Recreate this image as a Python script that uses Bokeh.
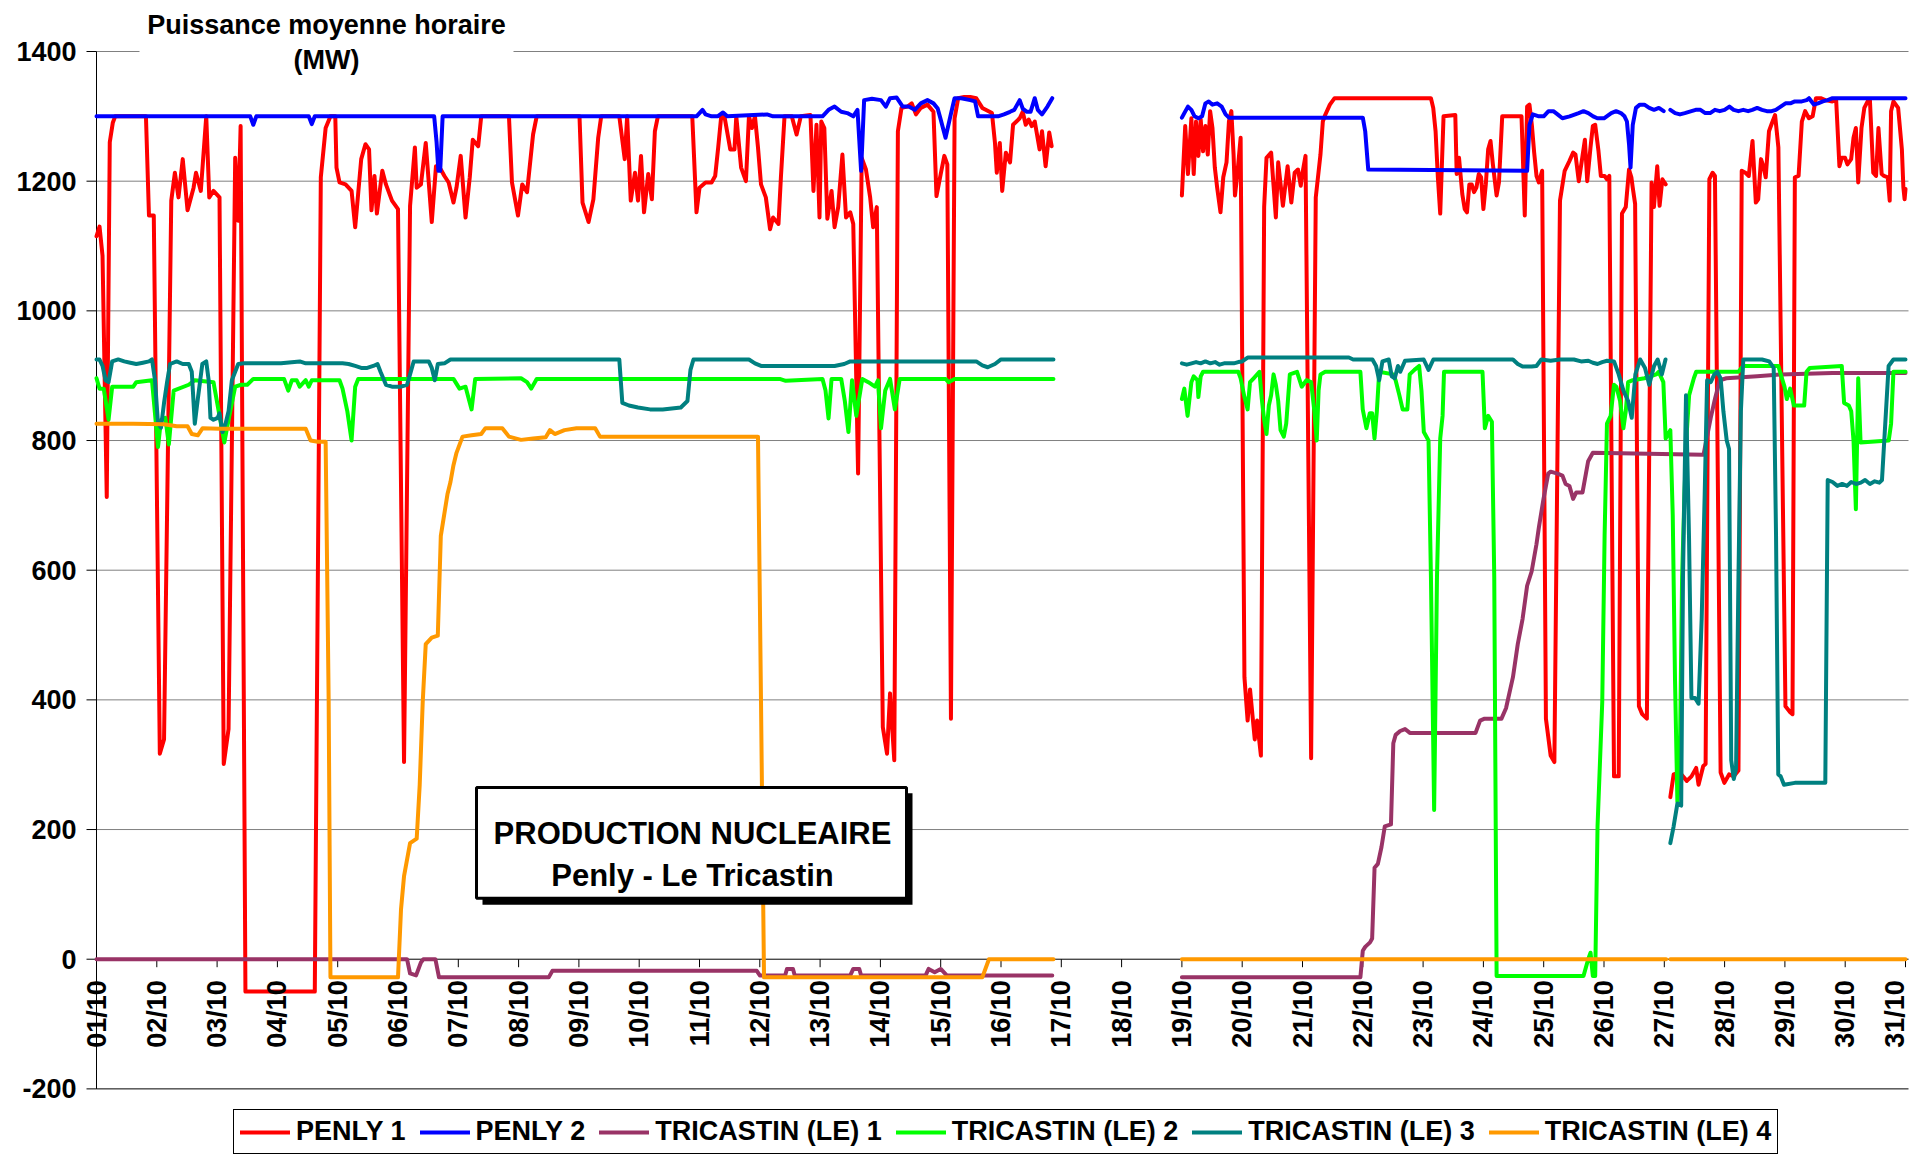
import math
from bokeh.plotting import figure
from bokeh.models import Range1d, Label, BoxAnnotation, Legend, LegendItem
from bokeh.embed import file_html
from bokeh.resources import INLINE

NAN = float("nan")

# ---------------- data (day offset from 01/10 00:00, MW) ----------------
DAY_LABELS = ["01/10", "02/10", "03/10", "04/10", "05/10", "06/10", "07/10", "08/10",
              "09/10", "10/10", "11/10", "12/10", "13/10", "14/10", "15/10", "16/10",
              "17/10", "18/10", "19/10", "20/10", "21/10", "22/10", "23/10", "24/10",
              "25/10", "26/10", "27/10", "28/10", "29/10", "30/10", "31/10"]
Y_TICKS = [-200, 0, 200, 400, 600, 800, 1000, 1200, 1400]
Y_LABELS = ["-200", "0", "200", "400", "600", "800", "1000", "1200", "1400"]

SERIES_NAMES = ["PENLY 1", "PENLY 2", "TRICASTIN (LE) 1", "TRICASTIN (LE) 2",
                "TRICASTIN (LE) 3", "TRICASTIN (LE) 4"]
SERIES_COLORS = ["#FF0000", "#0000FF", "#993366", "#00FF00", "#008080", "#FF9900"]

PENLY1 = [
    (0.00, 1115), (0.05, 1130), (0.10, 1085), (0.17, 713), (0.22, 1260), (0.27, 1290), (0.31, 1300),
    (0.82, 1300), (0.87, 1147), (0.95, 1147), (1.05, 317), (1.12, 339), (1.24, 1170), (1.30, 1213),
    (1.36, 1175), (1.43, 1234), (1.51, 1155), (1.61, 1190), (1.65, 1213), (1.73, 1185), (1.82, 1300),
    (1.87, 1175), (1.94, 1185), (1.99, 1180), (2.04, 1175), (2.11, 301), (2.19, 355), (2.30, 1236),
    (2.35, 1139), (2.39, 1285), (2.47, -50), (3.62, -50), (3.72, 1206), (3.80, 1282), (3.88, 1300),
    (3.96, 1300), (3.98, 1221), (4.03, 1198), (4.13, 1195), (4.23, 1185), (4.29, 1129), (4.39, 1234),
    (4.46, 1257), (4.52, 1249), (4.56, 1155), (4.61, 1208), (4.65, 1150), (4.74, 1216), (4.80, 1195),
    (4.90, 1170), (5.00, 1157), (5.10, 304), (5.20, 1162), (5.28, 1252), (5.31, 1190), (5.38, 1195),
    (5.46, 1259), (5.56, 1137), (5.63, 1223), (5.71, 1218), (5.77, 1208), (5.84, 1198), (5.92, 1167),
    (5.97, 1190), (6.04, 1239), (6.12, 1144), (6.19, 1206), (6.24, 1264), (6.33, 1254), (6.38, 1300),
    (6.84, 1300), (6.89, 1198), (6.99, 1147), (7.06, 1195), (7.14, 1183), (7.24, 1272), (7.30, 1300),
    (8.01, 1300), (8.06, 1167), (8.16, 1137), (8.24, 1172), (8.32, 1267), (8.37, 1300), (8.67, 1300),
    (8.76, 1234), (8.80, 1300), (8.86, 1170), (8.93, 1213), (8.98, 1170), (9.03, 1239), (9.08, 1152),
    (9.15, 1211), (9.21, 1172), (9.26, 1277), (9.31, 1300), (9.88, 1300), (9.95, 1152), (10.00, 1190),
    (10.10, 1198), (10.20, 1198), (10.26, 1208), (10.31, 1252), (10.36, 1300), (10.41, 1302),
    (10.51, 1249), (10.58, 1249), (10.61, 1300), (10.69, 1221), (10.77, 1200), (10.82, 1300),
    (10.87, 1282), (10.92, 1300), (10.97, 1252), (11.02, 1195), (11.10, 1175), (11.17, 1126),
    (11.22, 1144), (11.31, 1134), (11.35, 1206), (11.41, 1300), (11.53, 1300), (11.61, 1272),
    (11.68, 1300), (11.84, 1302), (11.89, 1185), (11.94, 1287), (11.99, 1144), (12.02, 1292),
    (12.07, 1282), (12.12, 1142), (12.19, 1185), (12.24, 1129), (12.30, 1160), (12.37, 1241),
    (12.43, 1144), (12.50, 1152), (12.55, 1134), (12.63, 749), (12.69, 1236), (12.76, 1218),
    (12.83, 1175), (12.88, 1129), (12.94, 1160), (13.04, 358), (13.11, 317), (13.16, 410),
    (13.23, 307), (13.29, 1277), (13.35, 1313), (13.45, 1315), (13.52, 1320), (13.59, 1303),
    (13.67, 1313), (13.78, 1318), (13.88, 1307), (13.93, 1177), (14.00, 1211), (14.06, 1239),
    (14.11, 1226), (14.17, 371), (14.23, 1297), (14.29, 1328), (14.39, 1330), (14.49, 1330),
    (14.59, 1328), (14.69, 1313), (14.85, 1305), (14.90, 1259), (14.93, 1213), (14.98, 1259),
    (15.02, 1185), (15.08, 1244), (15.15, 1229), (15.20, 1287), (15.31, 1297), (15.36, 1307),
    (15.41, 1287), (15.46, 1295), (15.51, 1285), (15.56, 1292), (15.64, 1249), (15.68, 1277),
    (15.74, 1223), (15.80, 1275), (15.84, 1254),
    (NAN, NAN),
    (18.00, 1178), (18.055, 1285), (18.10, 1211), (18.157, 1297), (18.196, 1211), (18.234, 1292),
    (18.273, 1239), (18.312, 1295), (18.351, 1246), (18.39, 1285), (18.429, 1241), (18.468, 1308),
    (18.507, 1282), (18.546, 1221), (18.585, 1190), (18.64, 1152), (18.686, 1206), (18.74, 1229),
    (18.78, 1292), (18.82, 1308), (18.857, 1241), (18.88, 1178), (18.92, 1211), (18.974, 1267),
    (19.037, 435), (19.09, 368), (19.13, 416), (19.208, 339), (19.247, 368), (19.31, 314),
    (19.364, 1160), (19.403, 1236), (19.48, 1244), (19.52, 1193), (19.558, 1144), (19.597, 1229),
    (19.675, 1162), (19.753, 1223), (19.815, 1167), (19.87, 1213), (19.925, 1218), (19.971, 1193),
    (20.00, 1213), (20.05, 1239), (20.143, 310), (20.22, 1175), (20.298, 1241), (20.337, 1292),
    (20.376, 1302), (20.454, 1318), (20.532, 1328), (22.13, 1328), (22.168, 1313), (22.207, 1277),
    (22.245, 1206), (22.284, 1150), (22.339, 1300), (22.534, 1302), (22.557, 1211), (22.596, 1236),
    (22.65, 1180), (22.69, 1157), (22.728, 1152), (22.767, 1195), (22.806, 1195), (22.845, 1183),
    (22.884, 1190), (22.923, 1211), (22.962, 1206), (23.00, 1157), (23.04, 1195), (23.079, 1249),
    (23.118, 1262), (23.157, 1226), (23.219, 1178), (23.258, 1198), (23.312, 1300), (23.632, 1300),
    (23.686, 1147), (23.725, 1315), (23.764, 1318), (23.803, 1287), (23.842, 1244), (23.881, 1208),
    (23.92, 1198), (23.974, 1216), (24.037, 371), (24.115, 314), (24.177, 304), (24.27, 1170),
    (24.348, 1216), (24.426, 1231), (24.488, 1244), (24.527, 1241), (24.582, 1200), (24.644, 1239),
    (24.683, 1264), (24.722, 1200), (24.776, 1252), (24.815, 1285), (24.854, 1287), (24.909, 1246),
    (24.948, 1208), (25.01, 1208), (25.049, 1203), (25.088, 1208), (25.166, 282), (25.244, 282),
    (25.298, 1150), (25.361, 1160), (25.415, 1218), (25.454, 1206), (25.477, 1190), (25.516, 1165),
    (25.579, 390), (25.633, 378), (25.711, 371), (25.789, 1198), (25.828, 1160), (25.883, 1223),
    (25.922, 1162), (25.968, 1203), (26.023, 1195),
    (NAN, NAN),
    (26.10, 250), (26.155, 285), (26.256, 288), (26.373, 275), (26.451, 282), (26.529, 295),
    (26.568, 269), (26.646, 298), (26.685, 301), (26.747, 1203), (26.801, 1213), (26.84, 1208),
    (26.934, 288), (26.996, 272), (27.074, 285), (27.152, 282), (27.23, 291), (27.284, 1216),
    (27.346, 1213), (27.401, 1208), (27.463, 1262), (27.518, 1167), (27.557, 1172), (27.604, 1234),
    (27.643, 1223), (27.682, 1206), (27.736, 1277), (27.775, 1287), (27.837, 1302), (27.892, 1252),
    (28.009, 390), (28.087, 381), (28.126, 378), (28.165, 1206), (28.227, 1208), (28.281, 1292),
    (28.336, 1308), (28.398, 1297), (28.46, 1300), (28.515, 1328), (28.593, 1328), (28.671, 1325),
    (28.788, 1323), (28.85, 1325), (28.904, 1223), (28.943, 1236), (28.998, 1236), (29.037, 1226),
    (29.099, 1234), (29.138, 1267), (29.177, 1282), (29.216, 1198), (29.27, 1282), (29.317, 1313),
    (29.372, 1323), (29.41, 1325), (29.465, 1213), (29.512, 1208), (29.551, 1282), (29.605, 1211),
    (29.644, 1208), (29.706, 1206), (29.738, 1170), (29.761, 1308), (29.80, 1323), (29.878, 1313),
    (29.94, 1249), (29.965, 1190), (29.985, 1172), (30.00, 1188),
]

PENLY2 = [
    (0.00, 1300), (2.55, 1300), (2.60, 1287), (2.65, 1300), (3.52, 1300), (3.57, 1288), (3.62, 1300),
    (5.60, 1300), (5.64, 1260), (5.67, 1216), (5.70, 1216), (5.74, 1300), (9.95, 1300), (10.05, 1310),
    (10.10, 1303), (10.20, 1300), (10.30, 1300), (10.39, 1306), (10.46, 1300), (11.12, 1303),
    (11.22, 1300), (12.04, 1300), (12.14, 1310), (12.24, 1315), (12.35, 1307), (12.45, 1305),
    (12.55, 1300), (12.62, 1310), (12.68, 1216), (12.73, 1325), (12.86, 1327), (13.01, 1325),
    (13.09, 1315), (13.16, 1328), (13.27, 1329), (13.37, 1315), (13.47, 1315), (13.57, 1310),
    (13.67, 1320), (13.78, 1325), (13.88, 1320), (13.95, 1312), (14.00, 1295), (14.08, 1267),
    (14.16, 1300), (14.23, 1328), (14.34, 1328), (14.49, 1325), (14.57, 1323), (14.62, 1300),
    (14.80, 1300), (14.95, 1300), (15.05, 1303), (15.15, 1307), (15.22, 1310), (15.31, 1325),
    (15.36, 1312), (15.43, 1307), (15.49, 1307), (15.56, 1328), (15.61, 1310), (15.68, 1303),
    (15.77, 1315), (15.85, 1328),
    (NAN, NAN),
    (18.00, 1298), (18.04, 1305), (18.10, 1315), (18.157, 1310), (18.21, 1300), (18.273, 1297),
    (18.335, 1300), (18.39, 1320), (18.445, 1323), (18.507, 1318), (18.585, 1320), (18.66, 1315),
    (18.725, 1303), (18.78, 1298), (21.00, 1298), (21.04, 1277), (21.09, 1218), (23.725, 1216),
    (23.764, 1287), (23.82, 1303), (23.92, 1300), (24.00, 1300), (24.08, 1308), (24.16, 1308),
    (24.23, 1303), (24.31, 1297), (24.43, 1300), (24.58, 1305), (24.66, 1308), (24.74, 1305),
    (24.82, 1300), (24.89, 1297), (25.00, 1297), (25.12, 1305), (25.20, 1308), (25.28, 1305),
    (25.34, 1300), (25.38, 1292), (25.415, 1257), (25.44, 1221), (25.477, 1287), (25.53, 1313),
    (25.595, 1318), (25.67, 1318), (25.75, 1313), (25.83, 1310), (25.91, 1313), (25.99, 1308),
    (NAN, NAN),
    (26.10, 1310), (26.18, 1305), (26.26, 1303), (26.34, 1305), (26.45, 1308), (26.52, 1310),
    (26.60, 1310), (26.68, 1305), (26.76, 1305), (26.84, 1310), (26.92, 1308), (27.00, 1310),
    (27.08, 1315), (27.15, 1310), (27.23, 1308), (27.31, 1310), (27.39, 1308), (27.46, 1310),
    (27.54, 1313), (27.62, 1310), (27.70, 1308), (27.78, 1308), (27.85, 1310), (27.93, 1315),
    (28.01, 1320), (28.09, 1320), (28.165, 1323), (28.28, 1323), (28.36, 1325), (28.40, 1328),
    (28.48, 1318), (28.55, 1320), (28.63, 1323), (28.71, 1325), (28.79, 1328), (30.00, 1328),
]

TRICASTIN1 = [
    (0.00, 0), (5.15, 0), (5.20, -22), (5.30, -25), (5.38, -5), (5.42, 0), (5.62, 0), (5.68, -28),
    (7.50, -28), (7.56, -18), (10.95, -18), (11.00, -25), (11.42, -25), (11.45, -15), (11.55, -15),
    (11.58, -25), (12.50, -25), (12.55, -15), (12.65, -15), (12.68, -25), (13.75, -25), (13.80, -15),
    (13.90, -20), (14.00, -15), (14.10, -25), (15.85, -25),
    (NAN, NAN),
    (18.00, -28), (20.96, -28), (21.00, 13), (21.04, 19), (21.12, 26), (21.155, 32), (21.195, 141),
    (21.25, 147), (21.31, 173), (21.365, 205), (21.467, 208), (21.506, 333), (21.545, 346),
    (21.62, 352), (21.70, 355), (21.78, 349), (22.87, 349), (22.945, 368), (23.02, 371), (23.30, 371),
    (23.375, 387), (23.49, 435), (23.57, 486), (23.65, 525), (23.725, 576), (23.80, 598), (23.88, 640),
    (23.92, 666), (23.997, 710), (24.075, 749), (24.115, 752), (24.23, 749), (24.31, 746),
    (24.364, 733), (24.426, 730), (24.488, 710), (24.54, 720), (24.644, 720), (24.70, 749),
    (24.737, 768), (24.815, 781), (26.65, 778), (26.69, 797), (26.77, 835), (26.84, 864),
    (26.92, 893), (27.03, 896), (27.54, 899), (27.93, 902), (28.79, 904), (30.00, 904),
]

TRICASTIN2 = [
    (0.00, 896), (0.05, 880), (0.12, 880), (0.20, 832), (0.26, 883), (0.61, 883), (0.66, 890),
    (0.92, 893), (1.02, 790), (1.07, 832), (1.14, 835), (1.20, 794), (1.28, 877), (1.53, 886),
    (1.63, 893), (1.94, 890), (2.04, 838), (2.12, 797), (2.19, 832), (2.30, 883), (2.40, 886),
    (2.50, 886), (2.60, 895), (3.11, 895), (3.18, 877), (3.24, 893), (3.32, 893), (3.37, 883),
    (3.47, 893), (3.52, 883), (3.57, 893), (4.03, 893), (4.08, 880), (4.16, 845), (4.23, 800),
    (4.29, 883), (4.34, 895), (5.92, 895), (6.02, 880), (6.12, 883), (6.22, 848), (6.28, 895),
    (7.04, 896), (7.14, 890), (7.21, 880), (7.30, 895), (11.33, 895), (11.43, 892), (12.04, 895),
    (12.09, 877), (12.14, 834), (12.19, 895), (12.35, 895), (12.41, 861), (12.47, 813), (12.53, 893),
    (12.60, 838), (12.70, 895), (12.80, 890), (12.91, 883), (12.96, 893), (13.01, 819), (13.08, 877),
    (13.16, 895), (13.24, 848), (13.32, 895), (14.08, 895), (14.13, 890), (14.23, 895), (15.87, 895),
    (NAN, NAN),
    (18.00, 864), (18.04, 880), (18.094, 838), (18.157, 890), (18.196, 899), (18.258, 893),
    (18.273, 867), (18.312, 899), (18.351, 906), (18.935, 906), (18.974, 896), (19.037, 867),
    (19.09, 848), (19.13, 890), (19.19, 896), (19.286, 906), (19.325, 864), (19.364, 832),
    (19.403, 810), (19.442, 854), (19.48, 870), (19.52, 902), (19.558, 886), (19.597, 861),
    (19.636, 816), (19.69, 806), (19.73, 826), (19.79, 902), (19.909, 906), (19.987, 883),
    (20.065, 893), (20.143, 890), (20.197, 845), (20.236, 800), (20.267, 877), (20.298, 902),
    (20.376, 906), (20.96, 906), (20.999, 848), (21.06, 819), (21.116, 842), (21.155, 842),
    (21.194, 803), (21.233, 845), (21.272, 906), (21.505, 902), (21.544, 893), (21.606, 870),
    (21.661, 848), (21.739, 848), (21.778, 902), (21.856, 909), (21.934, 915), (21.973, 877),
    (22.012, 813), (22.09, 800), (22.13, 589), (22.183, 230), (22.23, 589), (22.284, 803),
    (22.323, 838), (22.347, 906), (22.985, 906), (23.024, 819), (23.079, 838), (23.141, 829),
    (23.18, 589), (23.219, -26), (24.66, -26), (24.738, 0), (24.777, 10), (24.815, -26),
    (24.854, -26), (24.893, 205), (24.971, 397), (25.01, 653), (25.049, 826), (25.11, 838),
    (25.166, 886), (25.205, 883), (25.267, 861), (25.322, 819), (25.361, 845), (25.40, 890),
    (25.477, 893), (25.672, 896), (25.867, 902), (25.906, 906), (25.984, 890), (26.023, 803),
    (26.10, 816), (26.14, 685), (26.178, 429), (26.217, 243), (26.256, 294), (26.295, 589),
    (26.334, 717), (26.373, 813), (26.412, 870), (26.49, 896), (26.529, 906), (27.23, 906),
    (27.308, 915), (27.892, 915), (27.931, 902), (27.993, 883), (28.032, 864), (28.087, 880),
    (28.149, 854), (28.32, 854), (28.359, 906), (28.414, 912), (28.943, 915), (28.982, 858),
    (29.06, 854), (29.10, 845), (29.138, 800), (29.177, 694), (29.216, 896), (29.255, 797),
    (29.722, 800), (29.761, 826), (29.80, 906), (30.00, 906),
]

TRICASTIN3 = [
    (0.00, 925), (0.05, 925), (0.10, 915), (0.15, 893), (0.20, 890), (0.26, 922), (0.36, 925),
    (0.46, 922), (0.56, 920), (0.66, 918), (0.77, 920), (0.87, 922), (0.92, 925), (0.97, 893),
    (1.02, 826), (1.07, 820), (1.12, 858), (1.17, 890), (1.22, 918), (1.33, 922), (1.43, 918),
    (1.53, 918), (1.58, 906), (1.63, 826), (1.68, 864), (1.755, 918), (1.82, 922), (1.86, 893),
    (1.89, 835), (1.94, 832), (2.01, 835), (2.04, 842), (2.09, 813), (2.14, 826), (2.19, 845),
    (2.245, 893), (2.35, 918), (2.45, 919), (3.06, 919), (3.37, 922), (3.47, 919), (4.08, 919),
    (4.18, 918), (4.29, 915), (4.39, 912), (4.49, 912), (4.59, 915), (4.66, 918), (4.71, 906),
    (4.80, 886), (4.90, 883), (5.05, 883), (5.15, 886), (5.20, 902), (5.26, 922), (5.36, 922),
    (5.51, 922), (5.56, 912), (5.61, 893), (5.66, 918), (5.77, 919), (5.87, 925), (8.67, 925),
    (8.72, 858), (8.83, 854), (8.98, 851), (9.18, 848), (9.39, 848), (9.69, 851), (9.80, 861),
    (9.85, 909), (9.90, 925), (10.82, 925), (10.92, 919), (11.02, 915), (11.22, 915), (12.24, 915),
    (12.40, 918), (12.50, 922), (14.59, 922), (14.69, 916), (14.78, 913), (14.90, 918), (15.00, 925),
    (15.87, 925),
    (NAN, NAN),
    (18.00, 919), (18.08, 917), (18.16, 919), (18.235, 921), (18.31, 919), (18.39, 922),
    (18.47, 919), (18.55, 921), (18.625, 917), (18.70, 919), (18.78, 919), (18.86, 919),
    (18.935, 921), (19.00, 922), (19.09, 928), (20.77, 928), (20.84, 925), (21.16, 925),
    (21.22, 915), (21.272, 893), (21.326, 922), (21.43, 925), (21.48, 899), (21.53, 896),
    (21.583, 915), (21.622, 906), (21.70, 923), (22.01, 925), (22.09, 909), (22.17, 925),
    (23.49, 925), (23.57, 918), (23.65, 914), (23.80, 914), (23.88, 915), (23.96, 925),
    (24.115, 923), (24.27, 925), (24.50, 925), (24.62, 922), (24.74, 923), (24.815, 920),
    (24.893, 918), (24.97, 921), (25.05, 923), (25.166, 922), (25.244, 902), (25.322, 877),
    (25.40, 861), (25.46, 835), (25.52, 902), (25.60, 925), (25.68, 912), (25.75, 886),
    (25.83, 915), (25.89, 925), (25.96, 902), (26.02, 925),
    (NAN, NAN),
    (26.10, 179), (26.155, 205), (26.217, 240), (26.28, 237), (26.31, 589), (26.36, 870),
    (26.41, 650), (26.45, 403), (26.51, 403), (26.568, 394), (26.62, 525), (26.67, 717),
    (26.71, 893), (26.77, 890), (26.83, 902), (26.88, 906), (26.934, 896), (26.98, 845),
    (27.035, 800), (27.074, 787), (27.11, 307), (27.152, 278), (27.19, 294), (27.23, 589),
    (27.27, 845), (27.31, 925), (27.62, 925), (27.74, 922), (27.814, 912), (27.853, 653),
    (27.89, 285), (27.93, 282), (27.985, 269), (28.165, 272), (28.67, 272), (28.71, 739),
    (28.79, 736), (28.87, 730), (28.95, 733), (29.03, 730), (29.10, 736), (29.18, 733),
    (29.26, 735), (29.33, 739), (29.41, 733), (29.49, 737), (29.566, 735), (29.61, 739),
    (29.72, 915), (29.80, 925), (30.00, 925),
]

TRICASTIN4 = [
    (0.00, 826), (0.61, 826), (1.12, 825), (1.33, 822), (1.51, 822), (1.58, 810), (1.68, 808),
    (1.76, 819), (2.04, 818), (3.47, 818), (3.55, 800), (3.67, 798), (3.80, 798), (3.85, 400),
    (3.88, -28), (5.00, -28), (5.05, 77), (5.10, 128), (5.20, 179), (5.31, 186), (5.36, 269),
    (5.41, 397), (5.46, 486), (5.56, 496), (5.66, 499), (5.71, 653), (5.82, 717), (5.87, 736),
    (5.92, 762), (5.97, 781), (6.07, 806), (6.22, 808), (6.38, 810), (6.45, 819), (6.73, 819),
    (6.84, 806), (7.04, 801), (7.24, 803), (7.45, 805), (7.52, 816), (7.60, 810), (7.76, 816),
    (7.96, 819), (8.27, 819), (8.35, 806), (10.97, 806), (11.02, 397), (11.07, -28), (14.69, -28),
    (14.80, 0), (15.87, 0),
    (NAN, NAN),
    (18.00, 0), (26.03, 0),
    (NAN, NAN),
    (26.10, 0), (30.00, 0),
]

ALL_SERIES = [PENLY1, PENLY2, TRICASTIN1, TRICASTIN2, TRICASTIN3, TRICASTIN4]

# ---------------- layout (frame = whole canvas; axes drawn by hand) ----------------
FONT = "Liberation Sans"
W, H = 1910, 1155
X0_PX = 96          # canvas x of the value axis
PX_PER_DAY = 60.3
Y1400_PX = 51       # canvas y of the top gridline
PX_PER_MW = 0.64836
X_FRAME_END = 30.05  # where gridlines stop
LABEL_MAX_PX = W - 16  # keep rotated day labels fully on the canvas

x_start = -X0_PX / PX_PER_DAY
x_end = (W - X0_PX) / PX_PER_DAY
y_end = Y_TICKS[-1] + Y1400_PX / PX_PER_MW
y_start = Y_TICKS[-1] - (H - Y1400_PX) / PX_PER_MW


def dx(px):
    return px / PX_PER_DAY


def dy(px):
    return px / PX_PER_MW


def day_at(px):
    return (px - X0_PX) / PX_PER_DAY


p = figure(width=W, height=H, output_backend="svg", toolbar_location=None,
           x_range=Range1d(x_start, x_end), y_range=Range1d(y_start, y_end),
           x_axis_location=None, y_axis_location=None,
           min_border=0, min_border_left=0, min_border_right=0,
           min_border_top=0, min_border_bottom=0)
p.outline_line_color = None
p.background_fill_color = "white"
p.border_fill_color = "white"
for g in p.grid:
    g.visible = False

days = list(range(len(DAY_LABELS)))

# gridlines
grid_vals = [t for t in Y_TICKS if t not in (0, Y_TICKS[0])]
p.segment(x0=[0] * len(grid_vals), y0=grid_vals, x1=[X_FRAME_END] * len(grid_vals), y1=grid_vals,
          line_color="#808080", line_width=1)
# category axis (y=0) and bottom line (-200)
p.segment(x0=[0, 0], y0=[0, Y_TICKS[0]], x1=[X_FRAME_END, X_FRAME_END], y1=[0, Y_TICKS[0]],
          line_color="black", line_width=1)
# value axis line and its ticks
p.segment(x0=[0], y0=[Y_TICKS[0]], x1=[0], y1=[Y_TICKS[-1]], line_color="black", line_width=1)
p.segment(x0=[-dx(10)] * len(Y_TICKS), y0=Y_TICKS, x1=[0] * len(Y_TICKS), y1=Y_TICKS,
          line_color="black", line_width=1)
# category ticks
p.segment(x0=days, y0=[0] * len(days), x1=days, y1=[-dy(8)] * len(days),
          line_color="black", line_width=1)

# series
renderers = []
for name, color, data in zip(SERIES_NAMES, SERIES_COLORS, ALL_SERIES):
    xs = [d for d, _ in data]
    ys = [v for _, v in data]
    r = p.line(xs, ys, line_color=color, line_width=4, line_join="round", line_cap="round")
    renderers.append(r)

# value labels
for t, lab in zip(Y_TICKS, Y_LABELS):
    p.add_layout(Label(x=-dx(20), y=t, text=lab, text_align="right", text_baseline="middle",
                       text_font=FONT, text_font_style="bold", text_font_size="27px",
                       text_color="black"))

# category labels (rotated, just below the 0 line)
label_max_day = day_at(LABEL_MAX_PX)
for d, lab in zip(days, DAY_LABELS):
    p.add_layout(Label(x=min(d, label_max_day), y=-dy(21), text=lab, angle=math.pi / 2,
                       text_align="right", text_baseline="middle",
                       text_font=FONT, text_font_style="bold", text_font_size="27px",
                       text_color="black"))

# value-axis title with white background over the top gridline
p.add_layout(BoxAnnotation(left=day_at(139), right=day_at(513), bottom=1380, top=1480,
                           fill_color="white", fill_alpha=1.0, line_color=None))
p.add_layout(Label(x=day_at(326), y=1441, text="Puissance moyenne horaire",
                   text_align="center", text_baseline="alphabetic",
                   text_font=FONT, text_font_style="bold", text_font_size="27px",
                   text_color="black"))
p.add_layout(Label(x=day_at(326), y=1387, text="(MW)",
                   text_align="center", text_baseline="alphabetic",
                   text_font=FONT, text_font_style="bold", text_font_size="27px",
                   text_color="black"))

# framed caption with shadow
p.add_layout(BoxAnnotation(left=day_at(482), right=day_at(912), top=256, bottom=84,
                           fill_color="black", fill_alpha=1.0, line_color=None))
p.add_layout(BoxAnnotation(left=day_at(476), right=day_at(906), top=265, bottom=94,
                           fill_color="white", fill_alpha=1.0,
                           line_color="black", line_alpha=1.0, line_width=3))
p.add_layout(Label(x=day_at(692), y=194, text="PRODUCTION NUCLEAIRE",
                   text_align="center", text_baseline="alphabetic",
                   text_font=FONT, text_font_style="bold", text_font_size="31px",
                   text_color="black"))
p.add_layout(Label(x=day_at(692), y=129, text="Penly - Le Tricastin",
                   text_align="center", text_baseline="alphabetic",
                   text_font=FONT, text_font_style="bold", text_font_size="31px",
                   text_color="black"))

# legend
legend = Legend(items=[LegendItem(label=n, renderers=[r]) for n, r in zip(SERIES_NAMES, renderers)],
                orientation="horizontal", location=(233, 1),
                label_text_font=FONT, label_text_font_style="bold", label_text_font_size="27px",
                label_text_color="black",
                glyph_width=50, glyph_height=20, label_standoff=6, spacing=14, padding=6,
                margin=0, border_line_color="black", border_line_width=1.5, border_line_alpha=1.0,
                background_fill_color="white", background_fill_alpha=1.0)
p.add_layout(legend)

open("out.html", "w").write(file_html(p, INLINE))
